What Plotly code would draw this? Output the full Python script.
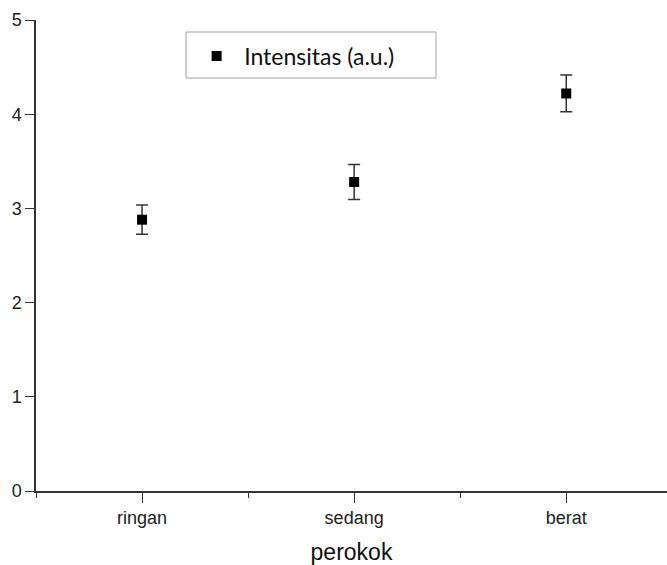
import plotly.graph_objects as go

# Smoker groups and measured intensity (arbitrary units) with error
categories = ["ringan", "sedang", "berat"]
positions = [1, 2, 3]
intensity = [2.88, 3.28, 4.22]
error = [0.155, 0.185, 0.195]
series_name = "Intensitas (a.u.)"
y_ticks = [0, 1, 2, 3, 4, 5]

W, H = 667, 565
ML, MR, MT, MB = 36, 0, 20, 74

tick_font = dict(family="Liberation Sans, Arial, sans-serif", size=18, color="#222222")

fig = go.Figure()
fig.add_trace(go.Scatter(
    x=positions,
    y=intensity,
    mode="markers",
    name=series_name,
    marker=dict(symbol="square", size=10, color="black"),
    error_y=dict(type="data", array=error, visible=True,
                 color="#333333", thickness=1.5, width=6),
))

# Legend frame drawn as a rectangle around the legend entry
fig.add_shape(type="rect", xref="paper", yref="paper",
              x0=(186 - ML) / (W - ML - MR), x1=(436 - ML) / (W - ML - MR),
              y0=(H - MB - 78) / (H - MT - MB), y1=(H - MB - 32) / (H - MT - MB),
              line=dict(color="#a0a0a0", width=1), fillcolor="white", layer="below")

fig.update_layout(
    width=W, height=H,
    margin=dict(l=ML, r=MR, t=MT, b=MB, pad=0),
    paper_bgcolor="white", plot_bgcolor="white",
    showlegend=True,
    legend=dict(
        x=(186 - ML) / (W - ML - MR) + 0.005, y=(H - MB - 56) / (H - MT - MB),
        xanchor="left", yanchor="middle",
        bgcolor="rgba(0,0,0,0)", borderwidth=0,
        font=dict(family="Lato, Carlito, Calibri, sans-serif", size=23, color="#111111"),
        itemwidth=45,
    ),
    xaxis=dict(
        range=[0.5, 3.475],
        tickmode="array", tickvals=positions, ticktext=categories,
        ticks="outside", ticklen=10, tickwidth=1.3, tickcolor="#333333",
        minor=dict(tick0=0.5, dtick=1, ticks="outside", ticklen=5,
                   tickwidth=1.3, tickcolor="#333333", showgrid=False),
        showline=True, linecolor="#333333", linewidth=1.5,
        showgrid=False, zeroline=False,
        tickfont=tick_font,
        title=dict(text="perokok", standoff=17,
                   font=dict(family="Liberation Sans, Arial, sans-serif", size=23, color="#111111")),
    ),
    yaxis=dict(
        range=[0, 5],
        tickmode="array", tickvals=y_ticks,
        ticks="outside", ticklen=9, tickwidth=1.3, tickcolor="#333333",
        showline=True, linecolor="#333333", linewidth=1.5,
        showgrid=False, zeroline=False,
        tickfont=tick_font,
    ),
)

fig.write_html("out.html")
